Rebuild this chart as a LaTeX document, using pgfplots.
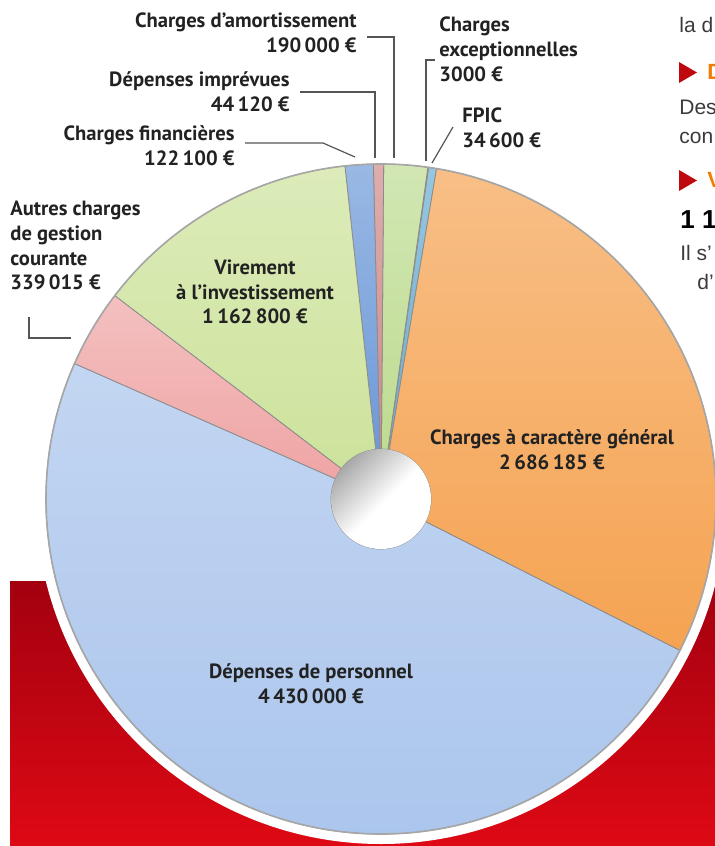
\documentclass[border=0pt]{standalone}
\usepackage{pgfplots}
\pgfplotsset{compat=1.18}
\usepackage{pgfplotstable}
\usepackage{fontspec}
\setmainfont{PT Sans}
\newfontfamily\artfont{Liberation Sans}

% slice colours, same order as the table rows
\definecolor{wedge0}{HTML}{6AAED3} % FPIC
\definecolor{wedge1}{HTML}{FFD400} % exceptionnelles
\definecolor{wedge2}{HTML}{BEDC92} % amortissement
\definecolor{wedge3}{HTML}{D08A8A} % imprevues
\definecolor{wedge4}{HTML}{6E9AD8} % financieres
\definecolor{wedge5}{HTML}{CDE39C} % virement
\definecolor{wedge6}{HTML}{EFA5A5} % autres charges
\definecolor{wedge7}{HTML}{A9C4EC} % personnel
\definecolor{wedge8}{HTML}{F5A352} % caractere general
\definecolor{labtext}{HTML}{222222}
\definecolor{leadcol}{HTML}{555555}
\definecolor{redtop}{HTML}{A3000F}
\definecolor{redbot}{HTML}{E30A15}
\definecolor{arttext}{HTML}{3A3A3A}
\definecolor{artorange}{HTML}{F07D00}
\definecolor{artred}{HTML}{BE0A0F}

% hole in the middle: white, darker towards the upper left (rotated below)
\pgfdeclareverticalshading{hole}{100bp}{%
  color(0bp)=(white); color(48bp)=(white); color(72bp)=(black!30);
  color(90bp)=(black!55); color(100bp)=(black!62)}

% budget (euros), counter-clockwise from the top
\pgfplotstableread[col sep=comma]{
poste,value
FPIC,34600
Exceptionnelles,3000
Amortissement,190000
Imprevues,44120
Financieres,122100
Virement,1162800
Autres,339015
Personnel,4430000
General,2686185
}\budget

\def\total{0}
\pgfplotstableforeachcolumnelement{value}\of\budget\as\v{%
  \xdef\total{\fpeval{\total+\v}}}

\newcommand\slice[3]{%
  \shadedraw[top color=wedge#1!70!white, bottom color=wedge#1,
             draw=black!45, line width=0.4pt]
    ([shift={(#2:25pt)}]pc) -- ([shift={(#2:167.5pt)}]pc)
    arc[start angle=#2, end angle=#3, radius=167.5pt]
    -- ([shift={(#3:25pt)}]pc)
    arc[start angle=#3, end angle=#2, radius=25pt] -- cycle;}

\newcount\wi
\def\cum{0}
\def\slices{}
\pgfplotstableforeachcolumnelement{value}\of\budget\as\v{%
  \edef\aS{\fpeval{round(80.45+\cum*360/\total,4)}}%
  \xdef\cum{\fpeval{\cum+\v}}%
  \edef\aE{\fpeval{round(80.45+\cum*360/\total,4)}}%
  \xdef\slices{\unexpanded\expandafter{\slices}\noexpand\slice{\the\wi}{\aS}{\aE}}%
  \global\advance\wi by 1 }

\begin{document}
\begin{tikzpicture}[
    lab/.style={font=\fontsize{10.3}{12.4}\selectfont\bfseries, text=labtext, inner sep=0pt},
    art/.style={font=\artfont\fontsize{10.5}{12}\selectfont, text=arttext, inner sep=0pt, anchor=west},
  ]
\begin{axis}[
    x=0.5pt, y=0.5pt,
    xmin=0, xmax=715, ymin=0, ymax=846,
    y dir=reverse,
    hide axis,
    clip=true,
  ]
  \coordinate (bl) at (rel axis cs:0,0);
  \coordinate (tr) at (rel axis cs:1,1);
  \coordinate (pc) at (axis cs:381,499);

  % red band behind the pie, white halo
  \shade[top color=redtop, bottom color=redbot] (axis cs:10,581) rectangle (axis cs:740,870);
  \fill[white] (pc) circle[radius=172.5pt];

  % slices
  \slices
  \draw[black!35, line width=0.8pt] (pc) circle[radius=167.5pt];
  \shade[shading=hole, shading angle=45] (pc) circle[radius=25pt];

  % leader lines
  \draw[leadcol, line width=0.6pt] (axis cs:367,37) -- (axis cs:394,37) -- (axis cs:394,158);
  \draw[leadcol, line width=0.6pt] (axis cs:300,92) -- (axis cs:375,92) -- (axis cs:375,158);
  \draw[leadcol, line width=0.6pt] (axis cs:245,143) -- (axis cs:323,143) -- (axis cs:355,157);
  \draw[leadcol, line width=0.6pt] (axis cs:435,60) -- (axis cs:426,60) -- (axis cs:426,161);
  \draw[leadcol, line width=0.6pt] (axis cs:453,127) -- (axis cs:432,163);
  \draw[leadcol, line width=0.6pt] (axis cs:29,317) -- (axis cs:29,338) -- (axis cs:71,338);

  % labels
  \node[lab, anchor=east, align=right] at (axis cs:357,33) {Charges d’amortissement\\190\,000 €};
  \node[lab, anchor=east, align=right] at (axis cs:290,91.5) {Dépenses imprévues\\44\,120 €};
  \node[lab, anchor=east, align=right] at (axis cs:235,145.5) {Charges financières\\122\,100 €};
  \node[lab, anchor=west, align=left] at (axis cs:439,49) {Charges\\exceptionnelles\\3000 €};
  \node[lab, anchor=west, align=left] at (axis cs:462,127.5) {FPIC\\34\,600 €};
  \node[lab, anchor=west, align=left] at (axis cs:10,245.5) {Autres charges\\de gestion\\courante\\339\,015 €};
  \node[lab, align=center] at (axis cs:255,292) {Virement\\à l’investissement\\1\,162\,800 €};
  \node[lab, align=center] at (axis cs:552,449.5) {Charges à caractère général\\2\,686\,185 €};
  \node[lab, align=center] at (axis cs:311,683.5) {Dépenses de personnel\\4\,430\,000 €};

  % article text cut by the right edge
  \node[art] at (axis cs:679,25) {la d};
  \fill[artred] (axis cs:679,62) -- (axis cs:697,72.5) -- (axis cs:679,83) -- cycle;
  \node[art, font=\artfont\bfseries\fontsize{11}{12}\selectfont, text=artorange] at (axis cs:707,72) {D};
  \node[art] at (axis cs:679,107) {Des};
  \node[art] at (axis cs:679,138) {con};
  \fill[artred] (axis cs:679,170) -- (axis cs:697,180.5) -- (axis cs:679,191) -- cycle;
  \node[art, font=\artfont\bfseries\fontsize{11}{12}\selectfont, text=artorange] at (axis cs:707,180) {V};
  \node[art, font=\artfont\bfseries\fontsize{13}{12}\selectfont, text=black] at (axis cs:680,220) {1 162 800};
  \node[art] at (axis cs:680,253) {Il s’};
  \node[art] at (axis cs:697,282) {d’};
\end{axis}
\pgfresetboundingbox
\path[use as bounding box] (bl) rectangle (tr);
\end{tikzpicture}
\end{document}
